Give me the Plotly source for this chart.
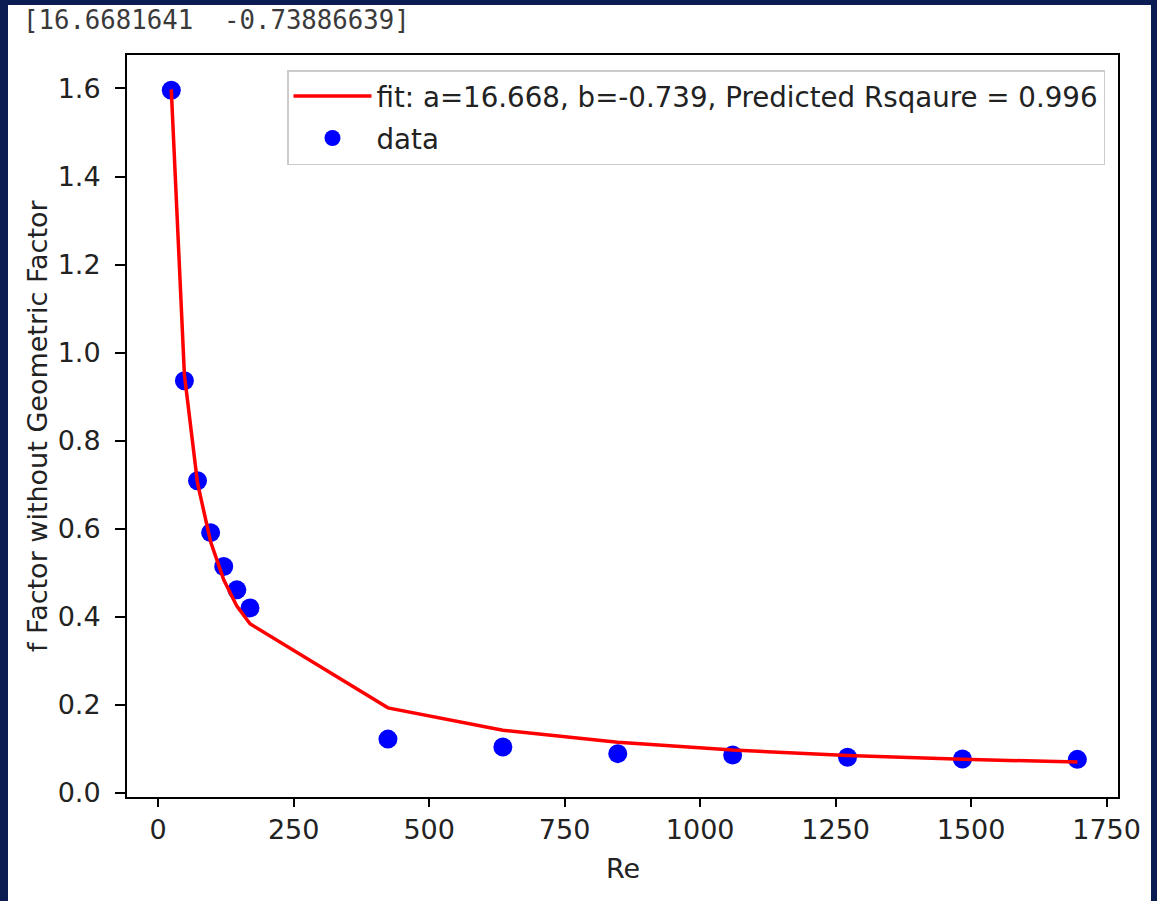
import plotly.graph_objects as go

# Data
re_vals = [24.2, 48.4, 72.6, 96.8, 121.0, 145.2, 169.4, 424, 636, 848, 1060, 1272, 1484, 1696]
f_data = [1.596, 0.936, 0.709, 0.591, 0.514, 0.461, 0.420, 0.122, 0.104, 0.089, 0.086, 0.081, 0.077, 0.076]
f_fit = [1.598, 0.950, 0.704, 0.570, 0.484, 0.424, 0.384, 0.193, 0.142, 0.115, 0.097, 0.085, 0.076, 0.070]
params_text = "[16.6681641\u00a0\u00a0-0.73886639]"
fit_label = "fit: a=16.668, b=-0.739, Predicted Rsqaure = 0.996"
x_ticks = [0, 250, 500, 750, 1000, 1250, 1500, 1750]
y_ticks = [0.0, 0.2, 0.4, 0.6, 0.8, 1.0, 1.2, 1.4, 1.6]

W, H = 1157, 901
L, R, T, B = 127, 39, 55, 104
pw, ph = W - L - R, H - T - B

def px(X):
    return (X - L) / pw

def py(Y):
    return (H - B - Y) / ph

FONT = "DejaVu Sans"
TXT = "#222222"
fig = go.Figure()
fig.add_trace(go.Scatter(x=re_vals, y=f_data, mode="markers", name="data",
                         legendgroup="b", legendrank=2,
                         marker=dict(color="#0000ff", size=19, line=dict(width=0))))
fig.add_trace(go.Scatter(x=re_vals, y=f_fit, mode="lines", name=fit_label,
                         legendgroup="a", legendrank=1,
                         line=dict(color="#ff0000", width=3.5)))

axis_common = dict(showline=True, mirror=True, linecolor="black", linewidth=2,
                   tickwidth=2, tickcolor="black", ticks="outside",
                   showgrid=False, zeroline=False,
                   tickfont=dict(family=FONT, size=27, color=TXT))
fig.update_xaxes(range=[-57.5, 1771], tickvals=x_ticks, ticklen=8,
                 ticklabelstandoff=0, **axis_common)
fig.update_yaxes(range=[-0.0095, 1.676], tickvals=y_ticks, tickformat=".1f",
                 ticklen=10, ticklabelstandoff=9, **axis_common)

fig.update_layout(
    width=W, height=H,
    margin=dict(l=L, r=R, t=T, b=B, pad=0),
    paper_bgcolor="#0b1d52",
    plot_bgcolor="white",
    font=dict(family=FONT, size=27, color=TXT),
    legend=dict(x=px(1105), y=py(70), xanchor="right", yanchor="top",
                bgcolor="white", bordercolor="#cccccc", borderwidth=1.5,
                traceorder="grouped", tracegroupgap=3,
                font=dict(family=FONT, size=27.7, color=TXT),
                itemwidth=78),
    shapes=[dict(type="rect", xref="paper", yref="paper", layer="below",
                 x0=px(8), x1=px(1151), y0=py(5), y1=py(905),
                 fillcolor="white", line=dict(width=0))],
    annotations=[
        dict(text=params_text, xref="paper", yref="paper", x=px(21), y=py(20),
             xanchor="left", yanchor="middle", showarrow=False,
             font=dict(family="DejaVu Sans Mono", size=25.7, color="#3a3a3a")),
        dict(text="Re", xref="paper", yref="paper", x=0.5, y=py(868),
             xanchor="center", yanchor="middle", showarrow=False,
             font=dict(family=FONT, size=27, color=TXT)),
        dict(text="f Factor without Geometric Factor", xref="paper", yref="paper",
             x=px(37), y=0.5, textangle=-90, xanchor="center", yanchor="middle",
             showarrow=False, font=dict(family=FONT, size=27, color=TXT)),
    ],
)

fig.write_html("out.html")
